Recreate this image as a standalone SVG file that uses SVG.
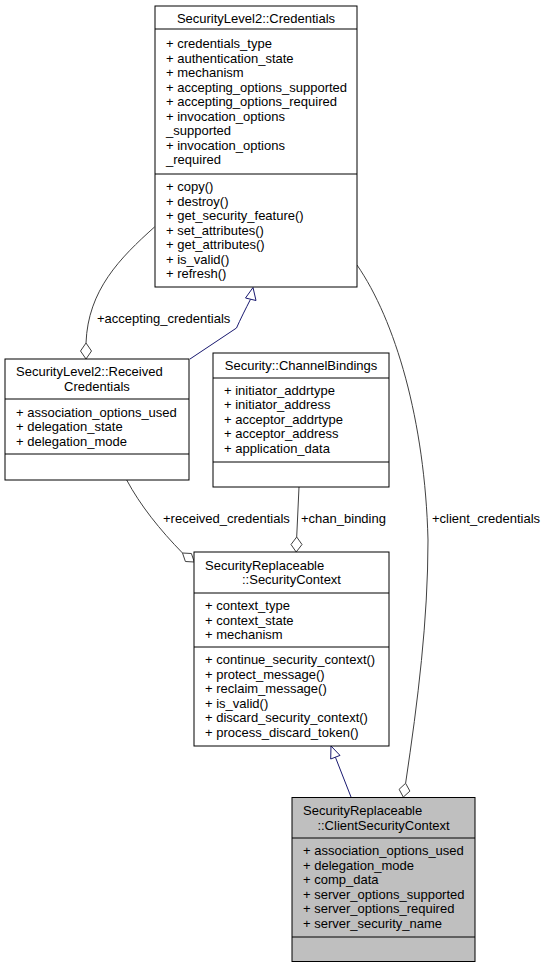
<svg xmlns="http://www.w3.org/2000/svg" width="547" height="968" viewBox="0 0 547 968">
<style>
text{font-family:"Liberation Sans",Arial,Helvetica,sans-serif;font-size:13px;fill:#000}
.c{text-anchor:middle}
.box{fill:#fff;stroke:#000;stroke-width:1}
.sel{fill:#bfbfbf;stroke:#000;stroke-width:1}
.div{stroke:#000;stroke-width:1}
.inh{fill:none;stroke:#191970;stroke-width:1}
.inhh{fill:#fff;stroke:#191970;stroke-width:1}
.agg{fill:none;stroke:#404040;stroke-width:1}
.aggh{fill:#fff;stroke:#404040;stroke-width:1}
</style>
<rect width="547" height="968" fill="#fff"/>
<g id="connectors">
  <path class="inh" d="M190,359 L236.5,328 C240,320 246,308 250.5,299.3"/>
  <polygon class="inhh" points="253,287.5 256,300.5 245.5,298"/>
  <path class="agg" d="M154.5,227 C120,258 88,290 86,343"/>
  <polygon class="aggh" points="86,343 91.5,351 86,359 80.5,351"/>
  <path class="agg" d="M357,265 C395,320 425,420 428,540 C428,620 418,700 405.6,783.3"/>
  <polygon class="aggh" points="405.6,783.3 409.9,791.1 403.3,797.1 399.1,789.3"/>
  <path class="agg" d="M126.7,480 C140,505 160,530 182.5,553"/>
  <polygon class="aggh" points="182.5,553 191.4,553.5 194.3,562 185.4,561.5"/>
  <path class="agg" d="M299,487 L296.7,537"/>
  <polygon class="aggh" points="296.7,537 302,544.5 296.2,552 291,544.5"/>
  <path class="inh" d="M351,797 L335.4,757.2"/>
  <polygon class="inhh" points="331,746 340,755.4 330.7,759"/>
  <text x="97" y="322.5">+accepting_credentials</text>
  <text x="163" y="523">+received_credentials</text>
  <text x="301" y="523">+chan_binding</text>
  <text x="432" y="523">+client_credentials</text>
</g>
<g id="Credentials">
  <rect class="box" x="155" y="6" width="202" height="281"/>
  <line class="div" x1="155" y1="29" x2="357" y2="29"/>
  <line class="div" x1="155" y1="174" x2="357" y2="174"/>
  <text class="c" x="256" y="22.5">SecurityLevel2::Credentials</text>
  <text x="166" y="48">+ credentials_type</text>
  <text x="166" y="62.5">+ authentication_state</text>
  <text x="166" y="77">+ mechanism</text>
  <text x="166" y="91.5">+ accepting_options_supported</text>
  <text x="166" y="106">+ accepting_options_required</text>
  <text x="166" y="120.5">+ invocation_options</text>
  <text x="166" y="135">_supported</text>
  <text x="166" y="149.5">+ invocation_options</text>
  <text x="166" y="164">_required</text>
  <text x="166" y="191">+ copy()</text>
  <text x="166" y="205.5">+ destroy()</text>
  <text x="166" y="220">+ get_security_feature()</text>
  <text x="166" y="234.5">+ set_attributes()</text>
  <text x="166" y="249">+ get_attributes()</text>
  <text x="166" y="263.5">+ is_valid()</text>
  <text x="166" y="278">+ refresh()</text>
</g>
<g id="ReceivedCredentials">
  <rect class="box" x="5" y="359" width="184" height="121"/>
  <line class="div" x1="5" y1="399" x2="189" y2="399"/>
  <line class="div" x1="5" y1="454" x2="189" y2="454"/>
  <text x="16" y="376.25">SecurityLevel2::Received</text>
  <text class="c" x="97" y="390.75">Credentials</text>
  <text x="16" y="416.5">+ association_options_used</text>
  <text x="16" y="431">+ delegation_state</text>
  <text x="16" y="445.5">+ delegation_mode</text>
</g>
<g id="ChannelBindings">
  <rect class="box" x="213" y="353" width="176" height="134"/>
  <line class="div" x1="213" y1="378" x2="389" y2="378"/>
  <line class="div" x1="213" y1="462" x2="389" y2="462"/>
  <text class="c" x="301" y="370">Security::ChannelBindings</text>
  <text x="224" y="394.5">+ initiator_addrtype</text>
  <text x="224" y="409">+ initiator_address</text>
  <text x="224" y="423.5">+ acceptor_addrtype</text>
  <text x="224" y="438">+ acceptor_address</text>
  <text x="224" y="452.5">+ application_data</text>
</g>
<g id="SecurityContext">
  <rect class="box" x="194" y="552" width="195" height="194"/>
  <line class="div" x1="194" y1="593" x2="389" y2="593"/>
  <line class="div" x1="194" y1="647" x2="389" y2="647"/>
  <text x="205" y="569.75">SecurityReplaceable</text>
  <text class="c" x="291.5" y="584.25">::SecurityContext</text>
  <text x="205" y="610">+ context_type</text>
  <text x="205" y="624.5">+ context_state</text>
  <text x="205" y="639">+ mechanism</text>
  <text x="205" y="664">+ continue_security_context()</text>
  <text x="205" y="678.5">+ protect_message()</text>
  <text x="205" y="693">+ reclaim_message()</text>
  <text x="205" y="707.5">+ is_valid()</text>
  <text x="205" y="722">+ discard_security_context()</text>
  <text x="205" y="736.5">+ process_discard_token()</text>
</g>
<g id="ClientSecurityContext">
  <rect class="sel" x="292" y="797.5" width="183" height="164"/>
  <line class="div" x1="292" y1="838" x2="475" y2="838"/>
  <line class="div" x1="292" y1="937" x2="475" y2="937"/>
  <text x="303" y="815.25">SecurityReplaceable</text>
  <text class="c" x="383.5" y="829.75">::ClientSecurityContext</text>
  <text x="303" y="855">+ association_options_used</text>
  <text x="303" y="869.5">+ delegation_mode</text>
  <text x="303" y="884">+ comp_data</text>
  <text x="303" y="898.5">+ server_options_supported</text>
  <text x="303" y="913">+ server_options_required</text>
  <text x="303" y="927.5">+ server_security_name</text>
</g>
</svg>
